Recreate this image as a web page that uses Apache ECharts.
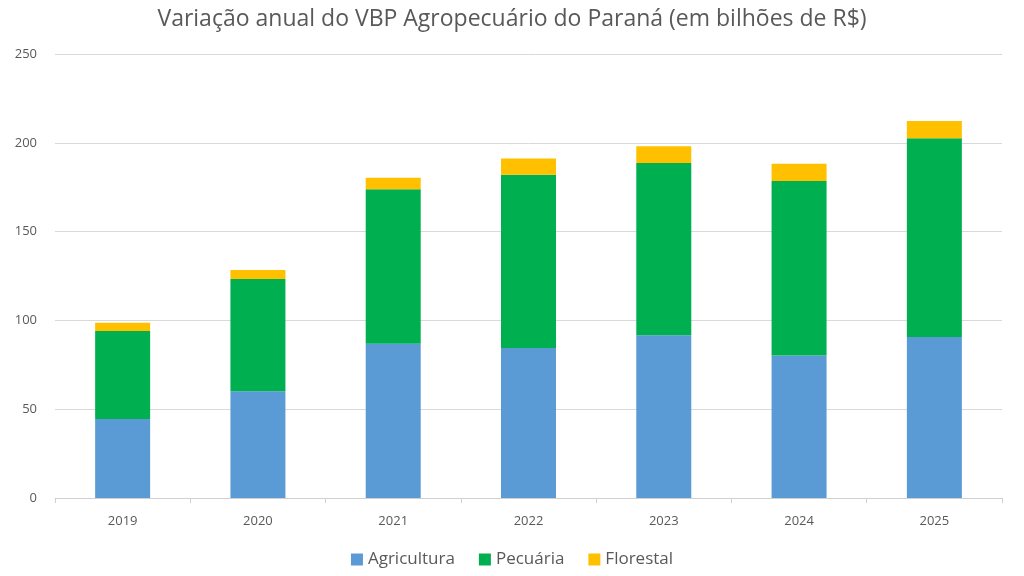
<!DOCTYPE html>
<html>
<head>
<meta charset="utf-8">
<script src="https://cdn.jsdelivr.net/npm/echarts@6/dist/echarts.min.js"></script>
<style>
  html, body { margin: 0; padding: 0; background: #fff; }
  #chart { width: 1024px; height: 576px; }
</style>
</head>
<body>
<div id="chart"></div>
<script>
// dados (bilhões de R$)
var anos = ['2019', '2020', '2021', '2022', '2023', '2024', '2025'];
var agricultura = [44.5, 60.1, 86.9, 84.5, 91.6, 80.3, 90.7];
var pecuaria = [49.5, 63.2, 86.9, 97.5, 97.0, 98.2, 111.8];
var florestal = [4.7, 5.1, 6.5, 9.1, 9.4, 9.7, 9.8];

var fonte = '"Open Sans", "Liberation Sans", sans-serif';
var cinza = '#595959';

var chart = echarts.init(document.getElementById('chart'));

function serie(nome, dados, cor) {
    return {
        name: nome,
        type: 'bar',
        stack: 'total',
        barWidth: 55,
        data: dados,
        itemStyle: { color: cor }
    };
}

var option = {
    backgroundColor: '#fff',
    animation: false,
    textStyle: { fontFamily: fonte },
    title: {
        text: 'Variação anual do VBP Agropecuário do Paraná (em bilhões de R$)',
        left: 'center',
        top: 3,
        textStyle: { fontSize: 23, fontWeight: 'normal', color: cinza, fontFamily: fonte }
    },
    legend: {
        bottom: 3,
        left: 'center',
        itemWidth: 12,
        itemHeight: 12,
        itemGap: 24,
        icon: 'rect',
        textStyle: { fontSize: 17, color: cinza, fontFamily: fonte },
        data: ['Agricultura', 'Pecuária', 'Florestal']
    },
    grid: { left: 55, right: 22, top: 54, bottom: 78 },
    xAxis: {
        type: 'category',
        data: anos,
        axisLine: { lineStyle: { color: '#d0d0d0' } },
        axisTick: { show: true, alignWithLabel: false, length: 5, lineStyle: { color: '#d0d0d0' } },
        axisLabel: { color: cinza, fontSize: 13, margin: 17 }
    },
    yAxis: {
        type: 'value',
        min: 0,
        max: 250,
        interval: 50,
        axisLine: { show: false },
        axisTick: { show: false },
        axisLabel: { color: cinza, fontSize: 13, margin: 18 },
        splitLine: { lineStyle: { color: '#d9d9d9' } }
    },
    series: [
        serie('Agricultura', agricultura, '#5B9BD5'),
        serie('Pecuária', pecuaria, '#00B050'),
        serie('Florestal', florestal, '#FFC000')
    ]
};

chart.setOption(option);
</script>
</body>
</html>
